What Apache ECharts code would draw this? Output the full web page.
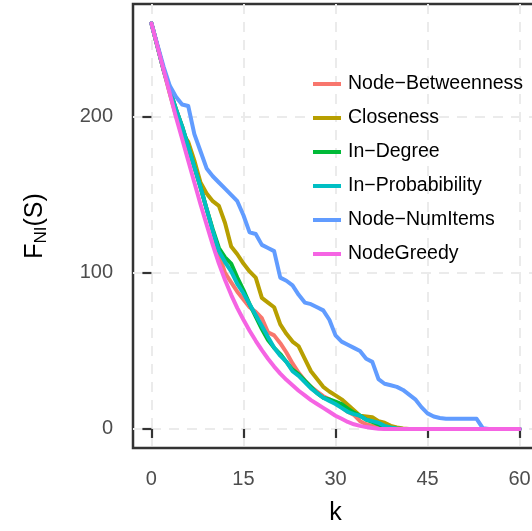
<!DOCTYPE html>
<html>
<head>
<meta charset="utf-8">
<script src="https://cdn.jsdelivr.net/npm/echarts@6/dist/echarts.min.js"></script>
<style>
html,body{margin:0;padding:0;background:#fff;overflow:hidden;}
#chart{width:545px;height:531px;}
</style>
</head>
<body>
<div id="chart"></div>
<script>
var kValues = [0,1,2,3,4,5,6,7,8,9,10,11,12,13,14,15,16,17,18,19,20,21,22,23,24,25,26,27,28,29,30,31,32,33,34,35,36,37,38,39,40,41,42,43,44,45,46,47,48,49,50,51,52,53,54,55,56,57,58,59,60];

var seriesNames = ["Node\u2212Betweenness","Closeness","In\u2212Degree","In\u2212Probabibility","Node\u2212NumItems","NodeGreedy"];
var seriesColors = ["#F8766D","#B79F00","#00BA38","#00BFC4","#619CFF","#F564E3"];

var nodeBetweenness = [260,245,230,217,205,194,181,168,155,141,127,112,100,94,88,83,78,75,71,62,60,55,49,42,36,31,27,24,21,19,16.5,14,11,9,5,3,2,1,0.3,0,0,0,0,0,0,0,0,0,0,0,0,0,0,0,0,0,0,0,0,0,0];
var closeness = [260,245,230,215,201,190,184,172,158,151,146,143,132,117,112,106,101,97,84,81,78,67,61,56,53,45,37,32,27,24,21.5,19,15.5,12,8.5,8,7.5,5,4,2,1,0.3,0,0,0,0,0,0,0,0,0,0,0,0,0,0,0,0,0,0,0];
var inDegree = [260,245,230,217,205,194,181,168,155,141,128,116,110,106,97,89,80,72,64,57,52,48,43,38,35,31,27,23,20,19,17.5,16,13,10.5,8.5,6,4.5,3,1.5,0.5,0,0,0,0,0,0,0,0,0,0,0,0,0,0,0,0,0,0,0,0,0];
var inProbability = [260,245,230,217,205,194,181,168,155,141,127,114,107,101,93,87,80,73,66,59,52,47,43,37,34,30,26,23,20,18,16,13.5,11,9.5,8.5,6,5,4,2,1,0.3,0,0,0,0,0,0,0,0,0,0,0,0,0,0,0,0,0,0,0,0];
var nodeNumItems = [260,246,232,220,213,208,207,189,178,167,162,158,154,150,146,137,126,125,118,116,114,97,95,92,86,81,80,78,76,70,60,56,54,52,50,45,43,32,29,28,27,25,22,19,14,10,8,7,6.5,6.5,6.5,6.5,6.5,6.5,0.5,0,0,0,0,0,0];
var nodeGreedy = [260,245,230,215,200,186,172,158,144,131,118,106,95.5,86,77.5,70,63,56.5,50.5,45,40,35.5,31.5,28,24.5,21.5,18.5,16,13.5,11,8.5,6.5,4.5,3,2,1.2,0.6,0.2,0,0,0,0,0,0,0,0,0,0,0,0,0,0,0,0,0,0,0,0,0,0,0];

var xTicks = [0,15,30,45,60];
var yTicks = [0,100,200];

var allValues = [nodeBetweenness, closeness, inDegree, inProbability, nodeNumItems, nodeGreedy];

var FONT = "Liberation Sans";
var chart = echarts.init(document.getElementById('chart'), null, {renderer:'canvas'});

var series = allValues.map(function(vals, i){
  return {
    name: seriesNames[i],
    type: 'line',
    data: kValues.map(function(k, j){ return [k, vals[j]]; }),
    showSymbol: false,
    symbol: 'none',
    lineStyle: {width: 4, color: seriesColors[i], cap: 'round', join: 'round'},
    itemStyle: {color: seriesColors[i]},
    animation: false
  };
});

var gridLine = {show: true, lineStyle: {color: '#EBEBEB', width: 2, type: [10, 8]}};

chart.setOption({
  animation: false,
  backgroundColor: '#ffffff',
  grid: {left: 133, top: 4, width: 405, height: 445, show: true, borderColor: '#333333', borderWidth: 2.5, backgroundColor: 'transparent', containLabel: false},
  legend: {
    show: true,
    orient: 'vertical',
    left: 308,
    top: 69,
    itemWidth: 28,
    itemHeight: 4,
    itemGap: 14,
    icon: 'rect',
    data: seriesNames,
    textStyle: {fontFamily: FONT, fontSize: 19.5, color: '#000000', lineHeight: 20, padding: [0,0,0,2]}
  },
  xAxis: {
    type: 'value', min: -3, max: 63,
    name: 'k', nameLocation: 'middle', nameGap: 53,
    nameTextStyle: {fontFamily: FONT, fontSize: 25, color: '#000000'},
    axisLine: {show: false},
    axisTick: {show: true, length: 9, lineStyle: {color: '#333333', width: 2.2}, customValues: xTicks},
    axisLabel: {show: true, margin: 21, fontFamily: FONT, fontSize: 20, color: '#4D4D4D', customValues: xTicks},
    splitLine: gridLine
  },
  yAxis: {
    type: 'value', min: -12.2, max: 272.4,
    name: '{f|F}{s|NI}{f|(S)}', nameLocation: 'middle', nameGap: 83, nameRotate: 90,
    nameTextStyle: {
      fontFamily: FONT, fontSize: 25, color: '#000000',
      rich: {
        f: {fontFamily: FONT, fontSize: 25, color: '#000000', lineHeight: 30, verticalAlign: 'middle'},
        s: {fontFamily: FONT, fontSize: 17, color: '#000000', lineHeight: 30, verticalAlign: 'bottom'}
      }
    },
    axisLine: {show: false},
    axisTick: {show: true, length: 9, lineStyle: {color: '#333333', width: 2.2}, customValues: yTicks},
    axisLabel: {show: true, margin: 20, fontFamily: FONT, fontSize: 20, color: '#4D4D4D', customValues: yTicks},
    splitLine: gridLine
  },
  series: series
});
</script>
</body>
</html>
